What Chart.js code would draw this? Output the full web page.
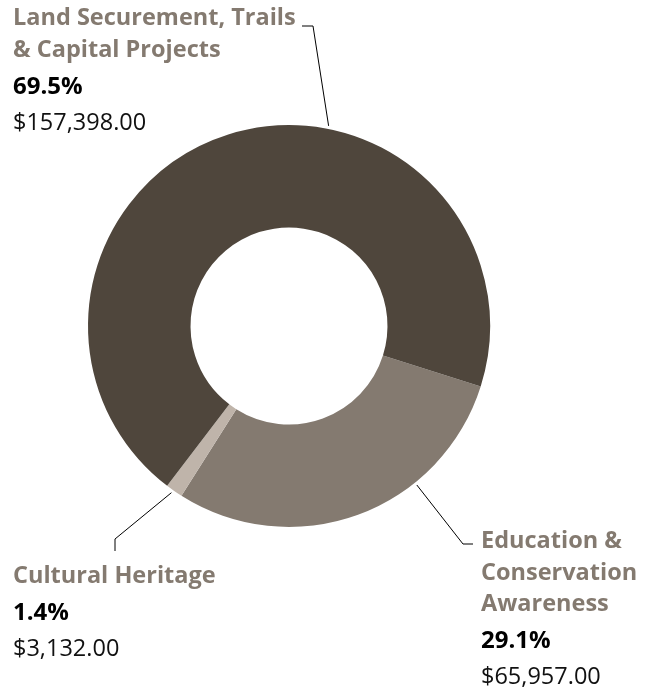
<!DOCTYPE html>
<html lang="en">
<head>
  <meta charset="UTF-8" />
  <title>Funding by Program</title>
  <script src="https://cdn.jsdelivr.net/npm/chart.js"></script>
  <style>
    html, body { margin: 0; padding: 0; background: #fff; }
    #wrap { width: 658px; height: 692px; }
  </style>
</head>
<body>
  <div id="wrap"><canvas id="graficoDona"></canvas></div>

  <script>
    const categorias = ['Education & Conservation Awareness', 'Cultural Heritage', 'Land Securement, Trails & Capital Projects'];
    const montos = [65957, 3132, 157398];
    const porcentajes = ['29.1%', '1.4%', '69.5%'];
    const montosTexto = ['$65,957.00', '$3,132.00', '$157,398.00'];
    const colores = ['#847a70', '#bfb4aa', '#4f463c'];

    // label blocks: title lines, text position, leader line (angle on ring + elbow)
    const etiquetas = [
      { titulo: ['Education &', 'Conservation', 'Awareness'], x: 481, y: 548, ang: 51.2, codo: [[463, 544], [473, 544]] },
      { titulo: ['Cultural Heritage'], x: 13, y: 583, ang: 125.2, codo: [[115, 539], [115, 551]] },
      { titulo: ['Land Securement, Trails', '& Capital Projects'], x: 13, y: 25, ang: -78.8, codo: [[313, 26], [302, 26]] }
    ];

    const etiquetasPlugin = {
      id: 'etiquetas',
      afterDraw(chart) {
        const ctx = chart.ctx;
        const arc = chart.getDatasetMeta(0).data[0];
        ctx.save();
        etiquetas.forEach((e, i) => {
          // leader line
          const a = e.ang * Math.PI / 180;
          const r = arc.outerRadius + 3;
          ctx.beginPath();
          ctx.moveTo(arc.x + Math.cos(a) * r, arc.y + Math.sin(a) * r);
          e.codo.forEach(p => ctx.lineTo(p[0], p[1]));
          ctx.strokeStyle = '#000';
          ctx.lineWidth = 1;
          ctx.stroke();

          // text
          let y = e.y;
          ctx.textAlign = 'left';
          ctx.textBaseline = 'alphabetic';
          ctx.fillStyle = '#847a70';
          ctx.font = 'bold 23.5px "Open Sans"';
          e.titulo.forEach(t => {
            ctx.fillText(t, e.x, y);
            y += 31.5;
          });
          y += 5.5;
          ctx.fillStyle = '#000';
          ctx.font = 'bold 24px "Open Sans"';
          ctx.fillText(porcentajes[i], e.x, y);
          y += 36;
          ctx.font = '23.5px "Open Sans"';
          ctx.fillStyle = '#111';
          ctx.fillText(montosTexto[i], e.x, y);
        });
        ctx.restore();
      }
    };

    new Chart(document.getElementById('graficoDona'), {
      type: 'doughnut',
      data: {
        labels: categorias,
        datasets: [{
          data: montos,
          backgroundColor: colores,
          borderWidth: 0,
          hoverOffset: 0
        }]
      },
      options: {
        responsive: true,
        maintainAspectRatio: false,
        animation: false,
        rotation: 107.5,
        cutout: '49%',
        layout: { padding: { left: 88, right: 168, top: 125, bottom: 165 } },
        plugins: {
          legend: { display: false },
          tooltip: { enabled: false }
        }
      },
      plugins: [etiquetasPlugin]
    });
  </script>
</body>
</html>
